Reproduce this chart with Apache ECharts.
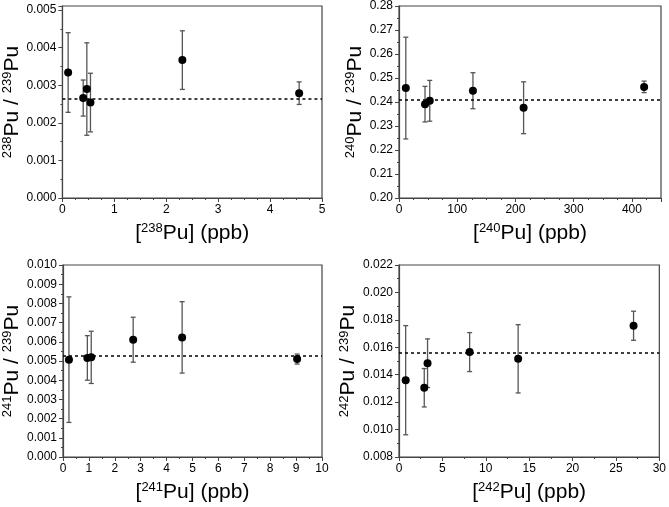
<!DOCTYPE html>
<html>
<head>
<meta charset="utf-8">
<script src="https://cdn.jsdelivr.net/npm/echarts@6/dist/echarts.min.js"></script>
<style>html,body{margin:0;padding:0;background:#fff}#c{width:669px;height:507px}</style>
</head>
<body>
<div id="c"></div>
<script>
// Panel 1: 238Pu
const x238 = [0.11, 0.40, 0.47, 0.54, 2.31, 4.56];
const r238 = [0.00334, 0.00266, 0.00290, 0.00254, 0.00367, 0.00279];
const e238 = [0.00106, 0.00048, 0.00123, 0.00078, 0.00078, 0.00030];
const mean238 = 0.00263;
// Panel 2: 240Pu
const x240 = [11.7, 44.7, 52.8, 127, 214, 421];
const r240 = [0.2458, 0.2391, 0.2405, 0.2447, 0.2376, 0.2463];
const e240 = [0.0212, 0.0074, 0.0085, 0.0075, 0.0108, 0.0024];
const mean240 = 0.2410;
// Panel 3: 241Pu
const x241 = [0.23, 0.94, 1.09, 2.71, 4.60, 9.04];
const r241 = [0.00507, 0.00516, 0.00519, 0.00611, 0.00623, 0.00510];
const e241 = [0.00327, 0.00116, 0.00136, 0.00117, 0.00186, 0.00026];
const mean241 = 0.00527;
// Panel 4: 242Pu
const x242 = [0.77, 2.91, 3.29, 8.14, 13.73, 27.03];
const r242 = [0.0136, 0.01305, 0.01484, 0.01565, 0.01516, 0.01757];
const e242 = [0.00398, 0.0014, 0.00177, 0.00142, 0.00249, 0.00106];
const mean242 = 0.01562;

const FONT = '"Liberation Sans", Arial, sans-serif';
const AX = '#444';
const panels = [
  {x: x238, y: r238, e: e238, m: mean238, iso: '238', grid: {left: 61, top: 6, width: 261, height: 192},
   xa: {min: 0, max: 5, interval: 1, minor: 4}, ya: {min: 0, max: 0.00511, interval: 0.001, dec: 3, minor: 2}, gap: 38},
  {x: x240, y: r240, e: e240, m: mean240, iso: '240', grid: {left: 399, top: 6, width: 262, height: 192},
   xa: {min: 0, max: 450, interval: 100, minor: 4}, ya: {min: 0.20, max: 0.28, interval: 0.01, dec: 2, minor: 2}, gap: 32},
  {x: x241, y: r241, e: e241, m: mean241, iso: '241', grid: {left: 61, top: 265, width: 261, height: 192},
   xa: {min: 0, max: 10, interval: 1, minor: 2}, ya: {min: 0, max: 0.010, interval: 0.001, dec: 3, minor: 2}, gap: 40},
  {x: x242, y: r242, e: e242, m: mean242, iso: '242', grid: {left: 399, top: 265, width: 262, height: 192},
   xa: {min: 0, max: 30, interval: 5, minor: 2}, ya: {min: 0.008, max: 0.022, interval: 0.002, dec: 3, minor: 2}, gap: 37}
];

const richSty = {
  sup: {fontSize: 13, fontFamily: FONT, color: '#000', verticalAlign: 'top', lineHeight: 22},
  b: {fontSize: 21, fontFamily: FONT, color: '#000', lineHeight: 22}
};

const grids = [], xAxes = [], yAxes = [], series = [];
panels.forEach((p, i) => {
  grids.push(Object.assign({show: true, borderColor: AX, borderWidth: 1.2, backgroundColor: 'transparent'}, p.grid));
  xAxes.push({
    type: 'value', gridIndex: i, min: p.xa.min, max: p.xa.max, interval: p.xa.interval,
    splitLine: {show: false},
    axisLine: {show: true, lineStyle: {color: AX, width: 1.2}},
    axisTick: {show: true, inside: false, length: 4, lineStyle: {color: AX}},
    minorTick: {show: true, splitNumber: p.xa.minor, length: 2, lineStyle: {color: AX}},
    axisLabel: {fontSize: 12, fontFamily: FONT, color: '#000', margin: 6, showMaxLabel: (p.xa.max % p.xa.interval === 0)},
    name: '{b|[}{sup|' + p.iso + '}{b|Pu] (ppb)}', nameLocation: 'middle', nameGap: 24,
    nameTextStyle: {fontSize: 21, fontFamily: FONT, color: '#000', rich: richSty}
  });
  yAxes.push({
    type: 'value', gridIndex: i, min: p.ya.min, max: p.ya.max, interval: p.ya.interval,
    splitLine: {show: false},
    axisLine: {show: true, lineStyle: {color: AX, width: 1.2}},
    axisTick: {show: true, inside: false, length: 4, lineStyle: {color: AX}},
    minorTick: {show: true, splitNumber: p.ya.minor, length: 2, lineStyle: {color: AX}},
    axisLabel: {fontSize: 12, fontFamily: FONT, color: '#000', margin: 6,
      showMaxLabel: i !== 0, formatter: v => v.toFixed(p.ya.dec)},
    name: '{sup|' + p.iso + '}{b|Pu / }{sup|239}{b|Pu}', nameLocation: 'middle', nameGap: p.gap, nameRotate: 90,
    nameTextStyle: {fontSize: 21, fontFamily: FONT, color: '#000', rich: richSty}
  });
  const pts = p.x.map((xv, k) => [xv, p.y[k], p.e[k]]);
  series.push({
    type: 'custom', xAxisIndex: i, yAxisIndex: i, encode: {x: 0, y: 1}, data: pts, z: 2,
    renderItem: (params, api) => {
      const xv = api.value(0), yv = api.value(1), ev = api.value(2);
      const t = api.coord([xv, yv + ev]);
      const b = api.coord([xv, yv - ev]);
      const cw = 2.5;
      const st = {stroke: '#555', lineWidth: 1.3};
      return {type: 'group', children: [
        {type: 'line', shape: {x1: t[0], y1: t[1], x2: b[0], y2: b[1]}, style: st},
        {type: 'line', shape: {x1: t[0] - cw, y1: t[1], x2: t[0] + cw, y2: t[1]}, style: st},
        {type: 'line', shape: {x1: b[0] - cw, y1: b[1], x2: b[0] + cw, y2: b[1]}, style: st}
      ]};
    }
  });
  series.push({
    type: 'scatter', xAxisIndex: i, yAxisIndex: i, z: 3,
    data: p.x.map((xv, k) => [xv, p.y[k]]),
    symbol: 'circle', symbolSize: 8, itemStyle: {color: '#000', opacity: 1},
    markLine: {silent: true, precision: 8, symbol: ['none', 'none'], label: {show: false},
      lineStyle: {type: [3, 3], color: '#000', width: 1.5},
      data: [{yAxis: p.m}]}
  });
});

const chart = echarts.init(document.getElementById('c'), null, {renderer: 'canvas'});
chart.setOption({animation: false, grid: grids, xAxis: xAxes, yAxis: yAxes, series: series});
</script>
</body>
</html>
